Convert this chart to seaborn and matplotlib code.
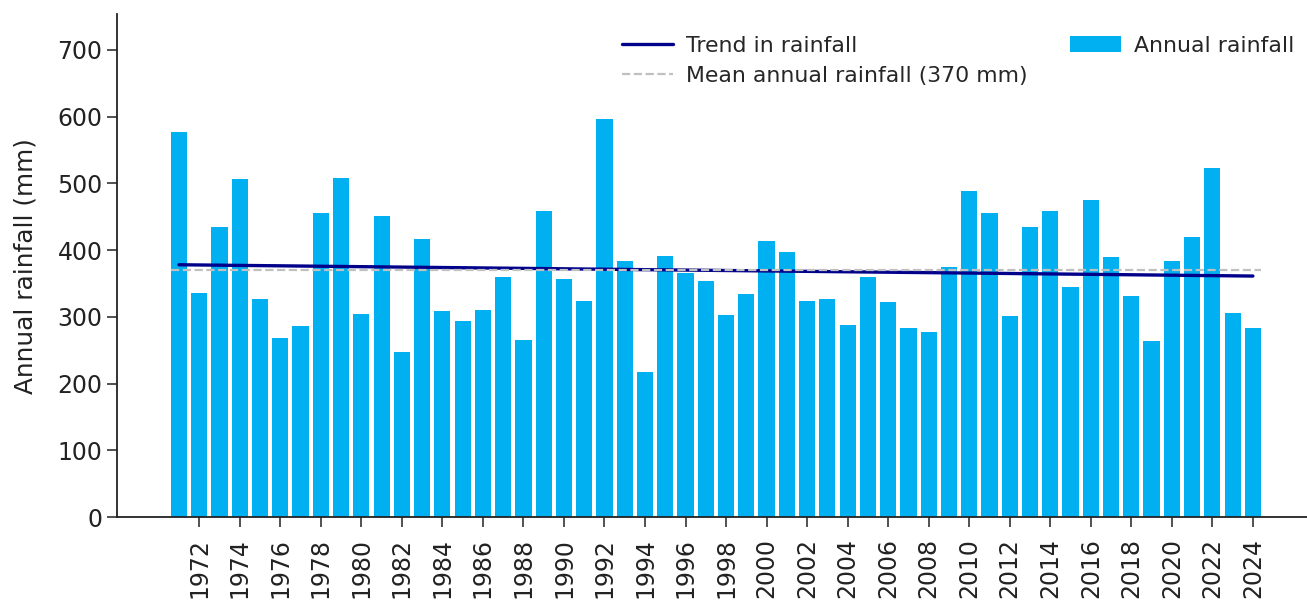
import numpy as np
import pandas as pd
import matplotlib
matplotlib.use("Agg")
import matplotlib.pyplot as plt
import seaborn as sns

# Annual rainfall totals (mm), 1971-2024
years = list(range(1971, 2025))
rainfall = [
    577, 335, 434, 507, 326, 268, 286, 456, 508, 304,
    451, 248, 416, 308, 294, 310, 359, 265, 458, 357,
    323, 597, 384, 217, 391, 365, 353, 303, 334, 414,
    397, 324, 326, 287, 359, 322, 283, 277, 374, 489,
    456, 301, 434, 459, 345, 475, 389, 331, 263, 384,
    419, 523, 306, 283,
]
mean_rainfall = 370
tick_years = list(range(1972, 2025, 2))

bar_color = "#00B0F0"
trend_color = "#00008B"
mean_color = "#C0C0C0"

df = pd.DataFrame({"year": years, "rainfall": rainfall})

sns.set_style("ticks")
plt.rcParams["font.family"] = ["DejaVu Sans"]

fig = plt.figure(figsize=(13.07, 6.03), dpi=100)
ax = fig.add_axes([0.0895, 0.1426, 0.9105, 0.8334])

sns.barplot(data=df, x="year", y="rainfall", native_scale=True, color=bar_color,
            saturation=1, width=0.8, linewidth=0, label="Annual rainfall", ax=ax)

# Linear trend fitted to the annual totals
slope, intercept = np.polyfit(df["year"], df["rainfall"], 1)
trend = pd.DataFrame({"year": [years[0], years[-1]]})
trend["rainfall"] = intercept + slope * trend["year"]
sns.lineplot(data=trend, x="year", y="rainfall", color=trend_color, linewidth=2.4,
             label="Trend in rainfall", ax=ax)

ax.plot([years[0] - 0.4, years[-1] + 0.4], [mean_rainfall, mean_rainfall],
        color=mean_color, linestyle="--", linewidth=1.6,
        label=f"Mean annual rainfall ({mean_rainfall} mm)")

ax.set_xlim(1967.94, 2026.67)
ax.set_ylim(0, 753)
ax.set_xticks(tick_years)
ax.set_xticklabels([str(y) for y in tick_years], rotation=90)
ax.set_yticks(range(0, 701, 100))
ax.tick_params(axis="both", labelsize=17, length=7, width=1.1, color="#222222",
               labelcolor="#222222")
ax.tick_params(axis="x", pad=8)
ax.set_xlabel("")
ax.set_ylabel("Annual rainfall (mm)", fontsize=17.8, color="#222222", labelpad=14)

for side in ("top", "right"):
    ax.spines[side].set_visible(False)
for side in ("left", "bottom"):
    ax.spines[side].set_linewidth(1.3)
    ax.spines[side].set_color("#222222")

handles, labels = ax.get_legend_handles_labels()
order = [labels.index("Trend in rainfall"),
         labels.index(f"Mean annual rainfall ({mean_rainfall} mm)"),
         labels.index("Annual rainfall")]
ax.legend([handles[i] for i in order], [labels[i] for i in order],
          ncol=2, loc="upper right", bbox_to_anchor=(1.006, 0.997),
          frameon=False, fontsize=15.8, handlelength=2.3, handletextpad=0.6,
          columnspacing=1.95, labelspacing=0.45)

fig.savefig("out.png", dpi=100)
